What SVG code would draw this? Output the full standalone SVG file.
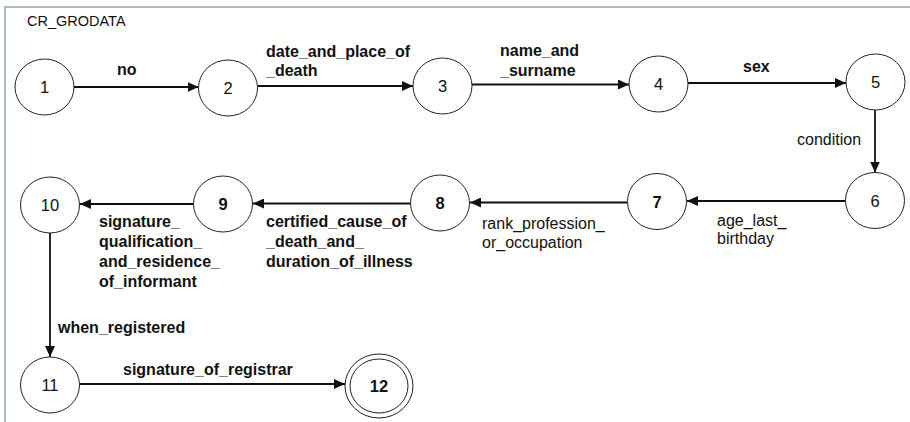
<svg xmlns="http://www.w3.org/2000/svg" width="910" height="422" viewBox="0 0 910 422">
<defs>
<style>
.frame{fill:none;stroke:#8fa2bf;stroke-width:1.5}
.node ellipse{fill:#fff;stroke:#222;stroke-width:1}
.nl{font-family:"Liberation Sans",Arial,sans-serif;font-size:16.5px;fill:#111;text-anchor:middle}
.b{font-weight:bold}
.el{font-family:"Liberation Sans",Arial,sans-serif;font-size:16px;fill:#111}
.title{font-family:"Liberation Sans",Arial,sans-serif;font-size:14.5px;fill:#111}
.edge{stroke:#111;stroke-width:1.8;fill:none;marker-end:url(#arr)}
</style>
<marker id="arr" markerUnits="userSpaceOnUse" markerWidth="12" markerHeight="10" refX="11" refY="5" orient="auto">
<path d="M0,0 L11,5 L0,10 Z" fill="#111"/>
</marker>
</defs>
<rect class="frame" x="5" y="7" width="912" height="420"/>
<text class="title" x="27" y="26">CR_GRODATA</text>

<g id="connectors">
<line class="edge" x1="74" y1="87" x2="198.5" y2="87"/>
<line class="edge" x1="258" y1="86" x2="413" y2="86"/>
<line class="edge" x1="472" y1="84.5" x2="629" y2="84.5"/>
<line class="edge" x1="688" y1="83" x2="846" y2="83"/>
<line class="edge" x1="875" y1="110" x2="875" y2="172.5"/>
<line class="edge" x1="846" y1="201" x2="687" y2="201"/>
<line class="edge" x1="627.5" y1="202.5" x2="470" y2="202.5"/>
<line class="edge" x1="410.5" y1="203.5" x2="253" y2="203.5"/>
<line class="edge" x1="193.5" y1="204" x2="80" y2="204"/>
<line class="edge" x1="50" y1="233" x2="50" y2="357"/>
<line class="edge" x1="80" y1="384" x2="345" y2="384"/>
<text class="el b" x="117" y="75">no</text>
<text class="el b" x="266" y="57">date_and_place_of</text>
<text class="el b" x="266" y="76">_death</text>
<text class="el b" x="500" y="56">name_and</text>
<text class="el b" x="500" y="76">_surname</text>
<text class="el b" x="743" y="72">sex</text>
<text class="el" x="797" y="145">condition</text>
<text class="el" x="717" y="226">age_last_</text>
<text class="el" x="717" y="244">birthday</text>
<text class="el" x="482" y="229">rank_profession_</text>
<text class="el" x="482" y="248">or_occupation</text>
<text class="el b" x="266" y="227">certified_cause_of</text>
<text class="el b" x="266" y="247">_death_and_</text>
<text class="el b" x="266" y="267">duration_of_illness</text>
<text class="el b" x="99" y="227">signature_</text>
<text class="el b" x="99" y="247">qualification_</text>
<text class="el b" x="99" y="267">and_residence_</text>
<text class="el b" x="99" y="287">of_informant</text>
<text class="el b" x="58" y="333">when_registered</text>
<text class="el b" x="123" y="375">signature_of_registrar</text>
</g>

<g id="n1" class="node"><ellipse cx="44.5" cy="87" rx="29.5" ry="28"/><text class="nl" x="44.5" y="93">1</text></g>
<g id="n2" class="node"><ellipse cx="228" cy="88" rx="29.5" ry="28"/><text class="nl" x="228" y="94">2</text></g>
<g id="n3" class="node"><ellipse cx="442.5" cy="86" rx="29.5" ry="28"/><text class="nl" x="442.5" y="92">3</text></g>
<g id="n4" class="node"><ellipse cx="658.5" cy="84" rx="29.5" ry="28"/><text class="nl" x="658.5" y="90">4</text></g>
<g id="n5" class="node"><ellipse cx="875.5" cy="82" rx="29.5" ry="28"/><text class="nl" x="875.5" y="88">5</text></g>
<g id="n6" class="node"><ellipse cx="875" cy="200.5" rx="29.5" ry="28"/><text class="nl" x="875" y="206.5">6</text></g>
<g id="n7" class="node"><ellipse cx="657" cy="201.5" rx="29.5" ry="28"/><text class="nl b" x="657" y="207.5">7</text></g>
<g id="n8" class="node"><ellipse cx="440" cy="203" rx="29.5" ry="28"/><text class="nl b" x="440" y="209">8</text></g>
<g id="n9" class="node"><ellipse cx="223" cy="204" rx="29.5" ry="28"/><text class="nl b" x="223" y="210">9</text></g>
<g id="n10" class="node"><ellipse cx="50" cy="205" rx="29.5" ry="28"/><text class="nl" x="50" y="211">10</text></g>
<g id="n11" class="node"><ellipse cx="50" cy="385" rx="29.5" ry="28"/><text class="nl" x="50" y="391">11</text></g>
<g id="n12" class="node"><ellipse cx="379" cy="386" rx="34" ry="32"/><ellipse cx="379" cy="386" rx="29" ry="27"/><text class="nl b" x="379" y="392">12</text></g>
</svg>
